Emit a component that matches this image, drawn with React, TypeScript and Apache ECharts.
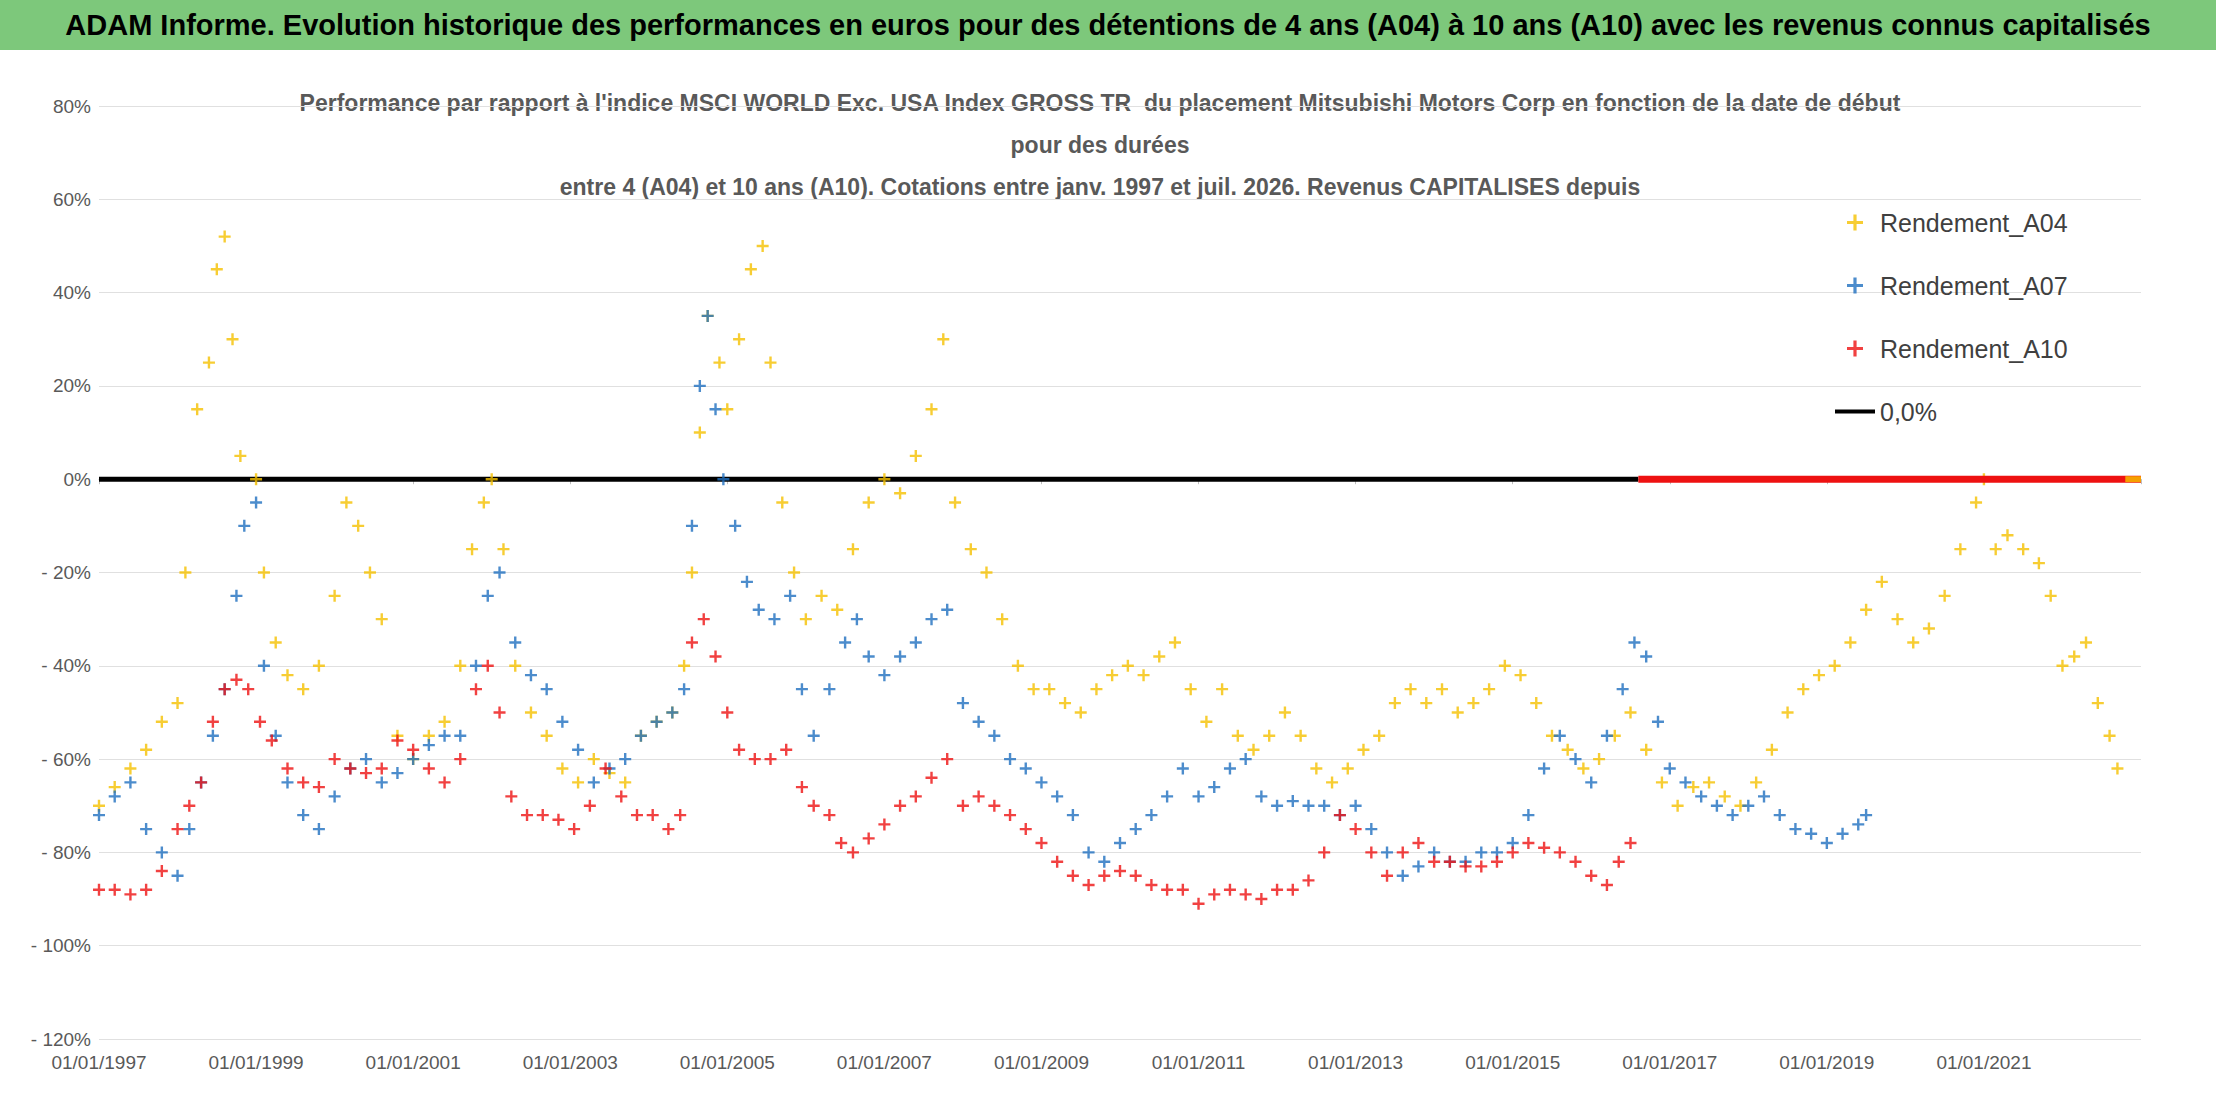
import { useEffect, useRef } from "react";
import * as echarts from "echarts";

// [year, performance %]
const a04: [number, number][] = [
  [1997.0, -70], [1997.2, -66], [1997.4, -62], [1997.6, -58], [1997.8, -52], [1998.0, -48],
  [1998.1, -20], [1998.25, 15], [1998.4, 25], [1998.5, 45], [1998.6, 52], [1998.7, 30],
  [1998.8, 5], [1999.0, 0], [1999.1, -20], [1999.25, -35], [1999.4, -42], [1999.6, -45],
  [1999.8, -40], [2000.0, -25], [2000.15, -5], [2000.3, -10], [2000.45, -20], [2000.6, -30],
  [2000.8, -55], [2001.0, -60], [2001.2, -55], [2001.4, -52], [2001.6, -40], [2001.75, -15],
  [2001.9, -5], [2002.0, 0], [2002.15, -15], [2002.3, -40], [2002.5, -50], [2002.7, -55],
  [2002.9, -62], [2003.1, -65], [2003.3, -60], [2003.5, -63], [2003.7, -65], [2003.9, -55],
  [2004.1, -52], [2004.3, -50], [2004.45, -40], [2004.55, -20], [2004.65, 10], [2004.75, 35],
  [2004.9, 25], [2005.0, 15], [2005.15, 30], [2005.3, 45], [2005.45, 50], [2005.55, 25],
  [2005.7, -5], [2005.85, -20], [2006.0, -30], [2006.2, -25], [2006.4, -28], [2006.6, -15],
  [2006.8, -5], [2007.0, 0], [2007.2, -3], [2007.4, 5], [2007.6, 15], [2007.75, 30],
  [2007.9, -5], [2008.1, -15], [2008.3, -20], [2008.5, -30], [2008.7, -40], [2008.9, -45],
  [2009.1, -45], [2009.3, -48], [2009.5, -50], [2009.7, -45], [2009.9, -42], [2010.1, -40],
  [2010.3, -42], [2010.5, -38], [2010.7, -35], [2010.9, -45], [2011.1, -52], [2011.3, -45],
  [2011.5, -55], [2011.7, -58], [2011.9, -55], [2012.1, -50], [2012.3, -55], [2012.5, -62],
  [2012.7, -65], [2012.9, -62], [2013.1, -58], [2013.3, -55], [2013.5, -48], [2013.7, -45],
  [2013.9, -48], [2014.1, -45], [2014.3, -50], [2014.5, -48], [2014.7, -45], [2014.9, -40],
  [2015.1, -42], [2015.3, -48], [2015.5, -55], [2015.7, -58], [2015.9, -62], [2016.1, -60],
  [2016.3, -55], [2016.5, -50], [2016.7, -58], [2016.9, -65], [2017.1, -70], [2017.3, -66],
  [2017.5, -65], [2017.7, -68], [2017.9, -70], [2018.1, -65], [2018.3, -58], [2018.5, -50],
  [2018.7, -45], [2018.9, -42], [2019.1, -40], [2019.3, -35], [2019.5, -28], [2019.7, -22],
  [2019.9, -30], [2020.1, -35], [2020.3, -32], [2020.5, -25], [2020.7, -15], [2020.9, -5],
  [2021.0, 0], [2021.15, -15], [2021.3, -12], [2021.5, -15], [2021.7, -18], [2021.85, -25],
  [2022.0, -40], [2022.15, -38], [2022.3, -35], [2022.45, -48], [2022.6, -55], [2022.7, -62],
];

const a07: [number, number][] = [
  [1997.0, -72], [1997.2, -68], [1997.4, -65], [1997.6, -75], [1997.8, -80], [1998.0, -85],
  [1998.15, -75], [1998.3, -65], [1998.45, -55], [1998.6, -45], [1998.75, -25], [1998.85, -10],
  [1999.0, -5], [1999.1, -40], [1999.25, -55], [1999.4, -65], [1999.6, -72], [1999.8, -75],
  [2000.0, -68], [2000.2, -62], [2000.4, -60], [2000.6, -65], [2000.8, -63], [2001.0, -60],
  [2001.2, -57], [2001.4, -55], [2001.6, -55], [2001.8, -40], [2001.95, -25], [2002.1, -20],
  [2002.3, -35], [2002.5, -42], [2002.7, -45], [2002.9, -52], [2003.1, -58], [2003.3, -65],
  [2003.5, -62], [2003.7, -60], [2003.9, -55], [2004.1, -52], [2004.3, -50], [2004.45, -45],
  [2004.55, -10], [2004.65, 20], [2004.75, 35], [2004.85, 15], [2004.95, 0], [2005.1, -10],
  [2005.25, -22], [2005.4, -28], [2005.6, -30], [2005.8, -25], [2005.95, -45], [2006.1, -55],
  [2006.3, -45], [2006.5, -35], [2006.65, -30], [2006.8, -38], [2007.0, -42], [2007.2, -38],
  [2007.4, -35], [2007.6, -30], [2007.8, -28], [2008.0, -48], [2008.2, -52], [2008.4, -55],
  [2008.6, -60], [2008.8, -62], [2009.0, -65], [2009.2, -68], [2009.4, -72], [2009.6, -80],
  [2009.8, -82], [2010.0, -78], [2010.2, -75], [2010.4, -72], [2010.6, -68], [2010.8, -62],
  [2011.0, -68], [2011.2, -66], [2011.4, -62], [2011.6, -60], [2011.8, -68], [2012.0, -70],
  [2012.2, -69], [2012.4, -70], [2012.6, -70], [2012.8, -72], [2013.0, -70], [2013.2, -75],
  [2013.4, -80], [2013.6, -85], [2013.8, -83], [2014.0, -80], [2014.2, -82], [2014.4, -82],
  [2014.6, -80], [2014.8, -80], [2015.0, -78], [2015.2, -72], [2015.4, -62], [2015.6, -55],
  [2015.8, -60], [2016.0, -65], [2016.2, -55], [2016.4, -45], [2016.55, -35], [2016.7, -38],
  [2016.85, -52], [2017.0, -62], [2017.2, -65], [2017.4, -68], [2017.6, -70], [2017.8, -72],
  [2018.0, -70], [2018.2, -68], [2018.4, -72], [2018.6, -75], [2018.8, -76], [2019.0, -78],
  [2019.2, -76], [2019.4, -74], [2019.5, -72],
];

const a10: [number, number][] = [
  [1997.0, -88], [1997.2, -88], [1997.4, -89], [1997.6, -88], [1997.8, -84], [1998.0, -75],
  [1998.15, -70], [1998.3, -65], [1998.45, -52], [1998.6, -45], [1998.75, -43], [1998.9, -45],
  [1999.05, -52], [1999.2, -56], [1999.4, -62], [1999.6, -65], [1999.8, -66], [2000.0, -60],
  [2000.2, -62], [2000.4, -63], [2000.6, -62], [2000.8, -56], [2001.0, -58], [2001.2, -62],
  [2001.4, -65], [2001.6, -60], [2001.8, -45], [2001.95, -40], [2002.1, -50], [2002.25, -68],
  [2002.45, -72], [2002.65, -72], [2002.85, -73], [2003.05, -75], [2003.25, -70], [2003.45, -62],
  [2003.65, -68], [2003.85, -72], [2004.05, -72], [2004.25, -75], [2004.4, -72], [2004.55, -35],
  [2004.7, -30], [2004.85, -38], [2005.0, -50], [2005.15, -58], [2005.35, -60], [2005.55, -60],
  [2005.75, -58], [2005.95, -66], [2006.1, -70], [2006.3, -72], [2006.45, -78], [2006.6, -80],
  [2006.8, -77], [2007.0, -74], [2007.2, -70], [2007.4, -68], [2007.6, -64], [2007.8, -60],
  [2008.0, -70], [2008.2, -68], [2008.4, -70], [2008.6, -72], [2008.8, -75], [2009.0, -78],
  [2009.2, -82], [2009.4, -85], [2009.6, -87], [2009.8, -85], [2010.0, -84], [2010.2, -85],
  [2010.4, -87], [2010.6, -88], [2010.8, -88], [2011.0, -91], [2011.2, -89], [2011.4, -88],
  [2011.6, -89], [2011.8, -90], [2012.0, -88], [2012.2, -88], [2012.4, -86], [2012.6, -80],
  [2012.8, -72], [2013.0, -75], [2013.2, -80], [2013.4, -85], [2013.6, -80], [2013.8, -78],
  [2014.0, -82], [2014.2, -82], [2014.4, -83], [2014.6, -83], [2014.8, -82], [2015.0, -80],
  [2015.2, -78], [2015.4, -79], [2015.6, -80], [2015.8, -82], [2016.0, -85], [2016.2, -87],
  [2016.35, -82], [2016.5, -78],
];

// zero-valued A10 tail and zero reference line
const a10Zero: [number, number][] = [[2016.6, 0], [2023.0, 0]];
const zeroLine: [number, number][] = [[1997.0, 0], [2016.6, 0]];
const a04Zero: [number, number][] = [[2022.8, 0], [2023.0, 0]];

const START = 1997;
const shift = (d: [number, number][]) => d.map(([x, y]) => [x - START, y]);
const PLUS = "path://M4 0h2v4h4v2h-4v4h-2v-4h-4v-2h4z";
const BAR = "path://M0 0h10v1h-10z";

export default function App() {
  const ref = useRef<HTMLDivElement>(null);

  useEffect(() => {
    if (!ref.current) return;
    const chart = echarts.init(ref.current, null, { renderer: "svg" });
    const font = "Liberation Sans, Arial, sans-serif";
    const scatter = (name: string, data: [number, number][], color: string) => ({
      name,
      type: "scatter",
      data: shift(data),
      symbol: PLUS,
      symbolSize: 12,
      itemStyle: { color },
    });

    chart.setOption({
      animation: false,
      backgroundColor: "#ffffff",
      textStyle: { fontFamily: font },
      graphic: [
        { type: "rect", shape: { x: 0, y: 0, width: 2216, height: 50 }, style: { fill: "#7dc87b" } },
        {
          type: "text",
          x: 1108,
          y: 25,
          style: {
            text: "ADAM Informe. Evolution historique des performances en euros pour des détentions de 4 ans (A04) à 10 ans (A10) avec les revenus connus capitalisés",
            fill: "#000",
            font: `bold 29px ${font}`,
            align: "center",
            verticalAlign: "middle",
          },
        },
        {
          type: "text",
          x: 1100,
          y: 145,
          style: {
            text:
              "Performance par rapport à l'indice MSCI WORLD Exc. USA Index GROSS TR  du placement Mitsubishi Motors Corp en fonction de la date de début\npour des durées\nentre 4 (A04) et 10 ans (A10). Cotations entre janv. 1997 et juil. 2026. Revenus CAPITALISES depuis",
            fill: "#595959",
            font: `bold 23px ${font}`,
            align: "center",
            verticalAlign: "middle",
            lineHeight: 42,
          },
        },
      ],
      grid: { left: 99, right: 75, top: 106, bottom: 63 },
      legend: {
        orient: "vertical",
        left: 1830,
        top: 205,
        itemGap: 38,
        itemWidth: 40,
        itemHeight: 16,
        textStyle: { fontSize: 25, color: "#404040", fontFamily: font },
        data: [
          { name: "Rendement_A04", icon: PLUS },
          { name: "Rendement_A07", icon: PLUS },
          { name: "Rendement_A10", icon: PLUS },
          { name: "0,0%", icon: BAR, itemStyle: { color: "#000" } },
        ],
      },
      xAxis: {
        type: "value",
        min: 0,
        max: 26,
        interval: 2,
        axisLine: { lineStyle: { color: "#bfbfbf" } },
        axisTick: { show: true, lineStyle: { color: "#bfbfbf" } },
        splitLine: { show: false },
        axisLabel: {
          color: "#595959",
          fontSize: 19,
          margin: 14,
          formatter: (v: number) => (v >= 26 ? "" : `01/01/${START + v}`),
        },
      },
      yAxis: {
        type: "value",
        min: -120,
        max: 80,
        interval: 20,
        axisLine: { show: false },
        axisTick: { show: false },
        splitLine: { lineStyle: { color: "#e0e0e0" } },
        axisLabel: {
          color: "#595959",
          fontSize: 19,
          formatter: (v: number) => (v < 0 ? `- ${-v}%` : `${v}%`),
        },
      },
      series: [
        {
          name: "0,0%",
          type: "line",
          data: shift(zeroLine),
          symbol: "none",
          lineStyle: { color: "#000", width: 5 },
          itemStyle: { color: "#000" },
          z: 1,
        },
        scatter("Rendement_A04", a04, "#f5c000"),
        scatter("Rendement_A07", a07, "#1f6fbf"),
        scatter("Rendement_A10", a10, "#ee1111"),
        {
          name: "Rendement_A10",
          type: "line",
          data: shift(a10Zero),
          symbol: "none",
          lineStyle: { color: "#ee1111", width: 7 },
          itemStyle: { color: "#ee1111" },
        },
        {
          name: "Rendement_A04",
          type: "line",
          data: shift(a04Zero),
          symbol: "none",
          lineStyle: { color: "#f5a000", width: 6 },
          itemStyle: { color: "#f5c000" },
        },
      ],
    });

    return () => chart.dispose();
  }, []);

  return (
    <div
      ref={ref}
      style={{ position: "absolute", left: 0, top: 0, width: 2216, height: 1102 }}
    />
  );
}
